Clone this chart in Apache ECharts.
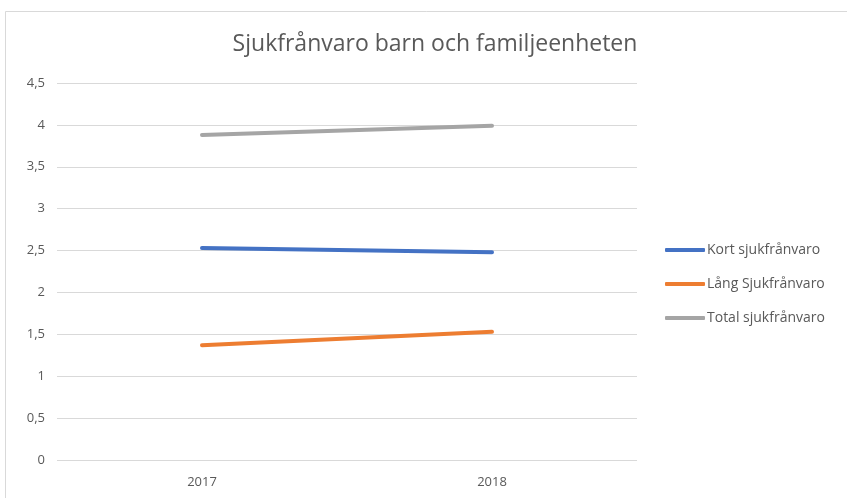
<!DOCTYPE html>
<html>
<head>
<meta charset="utf-8">
<style>
  html, body { margin: 0; padding: 0; background: #fff; }
  #chart { width: 847px; height: 498px; }
</style>
<script src="https://cdn.jsdelivr.net/npm/echarts@6/dist/echarts.min.js"></script>
</head>
<body>
<div id="chart"></div>
<script>
// ── Data ──────────────────────────────────────────────────────────────────────
const years      = ['2017', '2018'];
const kortSjuk   = [2.53, 2.48];
const langSjuk   = [1.37, 1.53];
const totalSjuk  = [3.88, 3.99];
const seriesNames = ['Kort sjukfrånvaro', 'Lång Sjukfrånvaro', 'Total sjukfrånvaro'];

const textGrey = '#595959';
const font = '"Open Sans", "Liberation Sans", sans-serif';

const chart = echarts.init(document.getElementById('chart'), null, { renderer: 'canvas' });

function lineSeries(name, data, color) {
  return {
    name, type: 'line', data,
    showSymbol: false, symbol: 'none',
    lineStyle: { color, width: 4, cap: 'round' },
    itemStyle: { color },
    animation: false,
  };
}

chart.setOption({
  backgroundColor: '#fff',
  animation: false,
  graphic: [{
    type: 'rect',
    shape: { x: 5.5, y: 11.5, width: 900, height: 600 },
    style: { fill: 'none', stroke: '#d9d9d9', lineWidth: 1 },
    silent: true,
  }],
  title: {
    text: 'Sjukfrånvaro barn och familjeenheten',
    left: 430, top: 28, textAlign: 'center',
    textStyle: { color: textGrey, fontSize: 23, fontWeight: 'normal', fontFamily: font },
  },
  legend: {
    orient: 'vertical',
    left: 660, top: 238,
    itemWidth: 40, itemHeight: 4, itemGap: 20,
    icon: 'roundRect',
    textStyle: { color: textGrey, fontSize: 14, fontFamily: font, padding: [0, 0, 0, -3] },
    data: seriesNames,
  },
  grid: { left: 57, right: 210, top: 83, bottom: 38, containLabel: false },
  xAxis: {
    type: 'category',
    data: years,
    boundaryGap: true,
    axisLine: { show: false },
    axisTick: { show: false },
    axisLabel: { color: textGrey, fontSize: 13, fontFamily: font, margin: 16 },
  },
  yAxis: {
    type: 'value',
    min: 0, max: 4.5, interval: 0.5,
    axisLine: { show: false },
    axisTick: { show: false },
    splitLine: { lineStyle: { color: '#d9d9d9', width: 1 } },
    axisLabel: {
      color: textGrey, fontSize: 13, fontFamily: font, margin: 12,
      formatter: v => String(v).replace('.', ','),
    },
  },
  series: [
    lineSeries(seriesNames[0], kortSjuk, '#4472c4'),
    lineSeries(seriesNames[1], langSjuk, '#ed7d31'),
    lineSeries(seriesNames[2], totalSjuk, '#a5a5a5'),
  ],
});
</script>
</body>
</html>
